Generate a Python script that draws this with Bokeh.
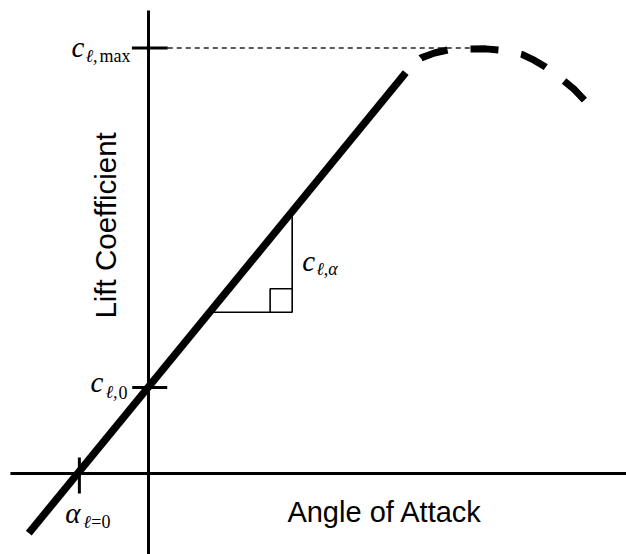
import math
from bokeh.plotting import figure
from bokeh.models import Range1d
from bokeh.core.properties import value
from bokeh.embed import file_html
from bokeh.resources import INLINE

# ---- data (angle of attack in degrees, lift coefficient) ----
alpha_linear = [-6.84, 14.70]
cl_linear = [-0.305, 2.050]

alpha_stall = [14.70, 15.09, 15.58, 16.34, 17.13, 17.83, 18.46, 19.26, 20.06,
               20.74, 21.37, 22.06, 22.69, 23.20, 23.71, 24.34, 24.91]
cl_stall = [2.050, 2.087, 2.126, 2.151, 2.167, 2.170, 2.171, 2.172, 2.166,
            2.156, 2.143, 2.113, 2.079, 2.046, 2.010, 1.964, 1.910]

alpha_zero_lift = -3.95
cl_zero_alpha = 0.44
cl_max = 2.176
alpha_cl_max_reach = 18.4

slope_alpha = [3.50, 8.21]
slope_cl = [0.825, 1.340]

x_title = "Angle of Attack"
y_title = "Lift Coefficient"

W, H = 626, 554
X0, X1 = -8.457, 27.314
Y0, Y1 = -0.4143, 2.4194

p = figure(width=W, height=H, x_range=Range1d(X0, X1), y_range=Range1d(Y0, Y1),
           x_axis_type=None, y_axis_type=None, toolbar_location=None,
           output_backend="svg", min_border=0, outline_line_color=None,
           background_fill_color="white", border_fill_color="white")
p.grid.visible = False

# axes drawn as lines through origin
p.line([0, 0], [2.368, Y0 - 0.1], line_width=3, line_color="black")
p.line([-7.89, X1 + 1], [0, 0], line_width=3, line_color="black")

# ticks
p.line([-0.95, 1.10], [cl_max, cl_max], line_width=3, line_color="black")
p.line([-0.93, 1.07], [cl_zero_alpha, cl_zero_alpha], line_width=3, line_color="black")
p.line([alpha_zero_lift, alpha_zero_lift], [0.082, -0.102], line_width=3, line_color="black")

# cl_max reference dashed line
p.line([1.10, alpha_cl_max_reach], [cl_max, cl_max], line_width=1.5,
       line_color="#222222", line_dash="5 4")

# slope triangle
p.line([slope_alpha[0], slope_alpha[1], slope_alpha[1]],
       [slope_cl[0], slope_cl[0], slope_cl[1]], line_width=1.6, line_color="black")
sq_a = 1.26
sq_c = 0.12
p.line([slope_alpha[1] - sq_a, slope_alpha[1] - sq_a, slope_alpha[1]],
       [slope_cl[0], slope_cl[0] + sq_c, slope_cl[0] + sq_c], line_width=1.6, line_color="black")

# linear lift curve
p.line(alpha_linear, cl_linear, line_width=7.5, line_color="black", line_cap="butt")

# stall region (dashed)
p.line(alpha_stall, cl_stall, line_width=7, line_color="black", line_cap="butt",
       line_dash="28 23", line_dash_offset=30)

serif = value("Liberation Serif")
sans = value("Liberation Sans")

def lab(x, y, t, dx, dy, size, style="italic"):
    p.text(x=[x], y=[y], text=[t], x_offset=dx, y_offset=dy,
           text_font=serif, text_font_size=value(size), text_font_style=style,
           text_align="left", text_baseline="middle", text_color="black")

# c_l,max
lab(0, cl_max, "c", -77, -1, "29px")
lab(0, cl_max, "ℓ,", -63, 8, "18px")
lab(0, cl_max, "max", -49, 8, "18px", "normal")
# c_l,0
lab(0, cl_zero_alpha, "c", -58, -5, "29px")
lab(0, cl_zero_alpha, "ℓ,", -43, 5, "18px")
lab(0, cl_zero_alpha, "0", -30, 5, "18px", "normal")
# alpha_l=0
lab(alpha_zero_lift, 0, "α", -14, 39, "29px")
lab(alpha_zero_lift, 0, "ℓ", 4, 48, "18px")
lab(alpha_zero_lift, 0, "=0", 12, 48, "18px", "normal")
# c_l,alpha
lab(slope_alpha[1], slope_cl[0], "c", 10, -51, "29px")
lab(slope_alpha[1], slope_cl[0], "ℓ,α", 24, -43, "18px")

# axis titles
p.text(x=[13.51], y=[-0.196], text=[x_title], text_font=sans,
       text_font_size=value("29px"), text_align="center", text_baseline="middle",
       text_color="black")
p.text(x=[-2.45], y=[1.269], text=[y_title], text_font=sans, angle=math.pi / 2,
       text_font_size=value("29.5px"), text_align="center", text_baseline="middle",
       text_color="black")

open("out.html", "w").write(file_html(p, INLINE))
